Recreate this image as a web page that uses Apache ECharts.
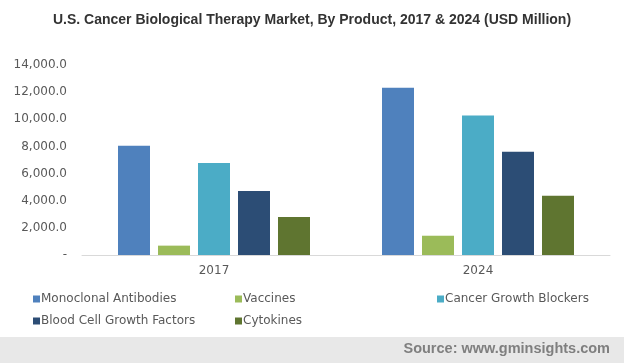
<!DOCTYPE html>
<html><head><meta charset="utf-8">
<script src="https://cdn.jsdelivr.net/npm/echarts@6/dist/echarts.min.js"></script>
<style>html,body{margin:0;padding:0;background:#fff}#c{width:624px;height:363px}</style>
</head><body><div id="c"></div>
<script>
var categories = ['2017', '2024'];
var seriesNames = ['Monoclonal Antibodies', 'Vaccines', 'Cancer Growth Blockers', 'Blood Cell Growth Factors', 'Cytokines'];
var monoclonal = [8050, 12330];
var vaccines = [690, 1420];
var cancerGrowth = [6780, 10270];
var bloodCell = [4720, 7610];
var cytokines = [2800, 4370];
var yTicks = [0, 2000, 4000, 6000, 8000, 10000, 12000, 14000];
var colors = ['#4f81bd', '#9bbb59', '#4bacc6', '#2c4d75', '#5f7530'];
var values = [monoclonal, vaccines, cancerGrowth, bloodCell, cytokines];

var legendPos = [[28, 288], [230, 288], [432, 288], [28, 310], [230, 310]];
var legends = seriesNames.map(function (n, i) {
  return {
    data: [n], left: legendPos[i][0], top: legendPos[i][1],
    icon: 'rect', itemWidth: 7, itemHeight: 7, itemGap: 0,
    textStyle: { fontFamily: 'DejaVu Sans', fontSize: 12, color: '#595959', padding: [0, 0, 0, -4] },
    selectedMode: false
  };
});

var chart = echarts.init(document.getElementById('c'), null, { renderer: 'canvas' });
chart.setOption({
  animation: false,
  color: colors,
  title: {
    text: 'U.S. Cancer Biological Therapy Market, By Product, 2017 & 2024 (USD Million)',
    left: 'center', top: 8,
    textStyle: { fontFamily: 'Liberation Sans', fontWeight: 'bold', fontSize: 14, color: '#333333' }
  },
  legend: legends,
  grid: { left: 82, right: 14, top: 65, bottom: 108, containLabel: false },
  xAxis: {
    type: 'category', data: categories,
    axisLine: { lineStyle: { color: '#d9d9d9', width: 1 } },
    axisTick: { show: false },
    axisLabel: { fontFamily: 'DejaVu Sans', fontSize: 12, color: '#595959', margin: 10 }
  },
  yAxis: {
    type: 'value', min: yTicks[0], max: yTicks[yTicks.length - 1], interval: 2000,
    axisLine: { show: false }, axisTick: { show: false }, splitLine: { show: false },
    axisLabel: {
      fontFamily: 'DejaVu Sans', fontSize: 12, color: '#595959', margin: 15,
      formatter: function (v) {
        if (v === 0) return '-';
        return v.toLocaleString('en-US', { minimumFractionDigits: 1, maximumFractionDigits: 1 });
      }
    }
  },
  series: seriesNames.map(function (n, i) {
    return {
      name: n, type: 'bar', data: values[i],
      barWidth: 32, barGap: '25%', barCategoryGap: '27%',
      itemStyle: { color: colors[i] }
    };
  }),
  graphic: [
    { type: 'rect', left: 0, top: 337, shape: { width: 624, height: 26 }, style: { fill: '#e8e8e8' }, silent: true },
    { type: 'text', right: 14, top: 341, style: { text: 'Source: www.gminsights.com', font: 'bold 14.5px "Liberation Sans"', fill: '#7f7f7f' } }
  ]
});
</script></body></html>
